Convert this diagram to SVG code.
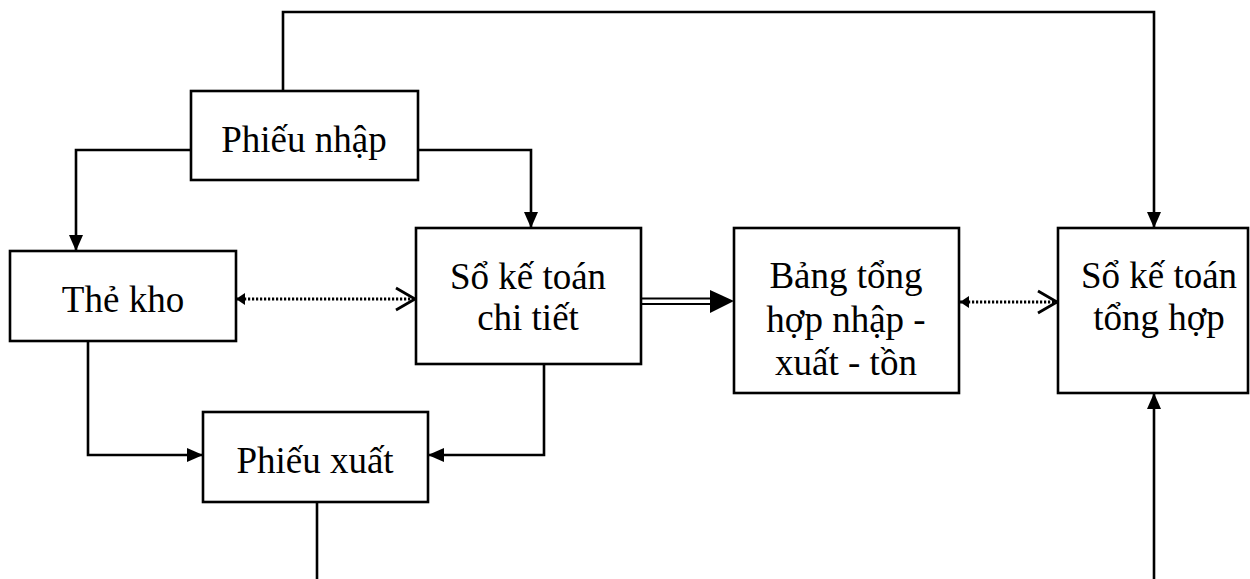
<svg xmlns="http://www.w3.org/2000/svg" width="1250" height="579" viewBox="0 0 1250 579">
  <style>
    .box { fill: #ffffff; stroke: #000000; stroke-width: 2.6; }
    .lbl { font-family: "Liberation Serif", "Times New Roman", serif; font-size: 37px; fill: #000000; text-anchor: middle; }
    .wire { fill: none; stroke: #000000; stroke-width: 2.6; }
    .dots { fill: none; stroke: #000000; stroke-width: 3; stroke-dasharray: 2.2 1.8; }
  </style>
  <defs>
    <marker id="arrow" markerWidth="16" markerHeight="14" refX="16" refY="7" orient="auto" markerUnits="userSpaceOnUse">
      <path d="M0,0 L16,7 L0,14 z" fill="#000000"/>
    </marker>
    <marker id="tick" markerWidth="9" markerHeight="12" refX="9" refY="6" orient="auto-start-reverse" markerUnits="userSpaceOnUse">
      <path d="M0,0 L9,6 L0,12 z" fill="#000000"/>
    </marker>
    <marker id="chevron" markerWidth="24" markerHeight="26" refX="21" refY="13" orient="auto" markerUnits="userSpaceOnUse">
      <path d="M2,2 L21,13 L2,24" fill="none" stroke="#000000" stroke-width="2.8"/>
    </marker>
  </defs>

  <!-- connectors -->
  <g id="connectors">
    <polyline class="wire" points="283,91 283,12 1154,12 1154,228" marker-end="url(#arrow)"/>
    <polyline class="wire" points="191,150 76,150 76,251" marker-end="url(#arrow)"/>
    <polyline class="wire" points="418,150 531,150 531,228" marker-end="url(#arrow)"/>
    <polyline class="wire" points="88,341 88,455 203,455" marker-end="url(#arrow)"/>
    <polyline class="wire" points="544,364 544,455 428,455" marker-end="url(#arrow)"/>
    <line class="wire" x1="317" y1="502" x2="317" y2="579"/>
    <line class="wire" x1="1154" y1="579" x2="1154" y2="393" marker-end="url(#arrow)"/>
    <!-- dotted two-way links -->
    <line class="dots" x1="236" y1="299" x2="415" y2="299" marker-start="url(#tick)" marker-end="url(#chevron)"/>
    <line class="dots" x1="960" y1="302" x2="1057" y2="302" marker-start="url(#tick)" marker-end="url(#chevron)"/>
    <!-- double-line transfer arrow -->
    <line class="wire" x1="641" y1="298.5" x2="712" y2="298.5" style="stroke-width:2.2"/>
    <line class="wire" x1="641" y1="304" x2="712" y2="304" style="stroke-width:2.2"/>
    <path d="M710,290 L734,301 L710,313 z" fill="#000000"/>
  </g>

  <!-- nodes -->
  <g id="phieu-nhap">
    <rect class="box" x="191" y="91" width="227" height="89"/>
    <text class="lbl" x="304" y="152">Phiếu nhập</text>
  </g>
  <g id="the-kho">
    <rect class="box" x="10" y="251" width="226" height="90"/>
    <text class="lbl" x="123" y="312">Thẻ kho</text>
  </g>
  <g id="so-ke-toan-chi-tiet">
    <rect class="box" x="416" y="228" width="225" height="136"/>
    <text class="lbl" x="528" y="289">Sổ kế toán</text>
    <text class="lbl" x="528" y="330">chi tiết</text>
  </g>
  <g id="bang-tong-hop">
    <rect class="box" x="734" y="228" width="225" height="165"/>
    <text class="lbl" x="846" y="288">Bảng tổng</text>
    <text class="lbl" x="846" y="332">hợp nhập -</text>
    <text class="lbl" x="846" y="375">xuất - tồn</text>
  </g>
  <g id="so-ke-toan-tong-hop">
    <rect class="box" x="1058" y="228" width="190" height="165"/>
    <text class="lbl" x="1159" y="288">Sổ kế toán</text>
    <text class="lbl" x="1159" y="330">tổng hợp</text>
  </g>
  <g id="phieu-xuat">
    <rect class="box" x="203" y="412" width="225" height="90"/>
    <text class="lbl" x="315" y="473">Phiếu xuất</text>
  </g>
</svg>
